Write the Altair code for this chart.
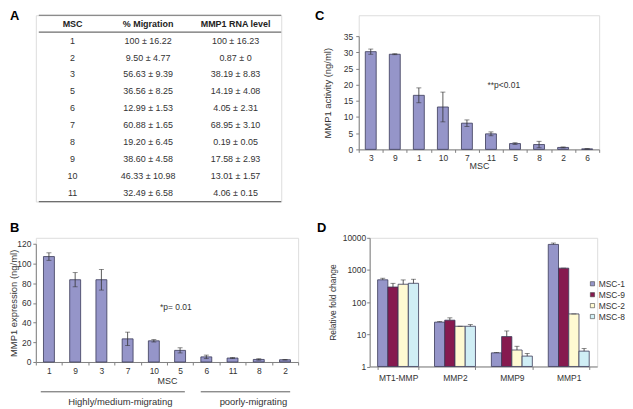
import altair as alt
import pandas as pd

FONT = "Liberation Sans"
BAR_FILL = "#9595c9"
BAR_EDGE = "#3a3a58"
AXIS_GRAY = "#808080"
TXT = "#333333"

# ---------------- data ----------------
# Panel A (table)
table_headers = ["MSC", "% Migration", "MMP1 RNA level"]
table_msc = ["1", "2", "3", "5", "6", "7", "8", "9", "10", "11"]
table_migration = ["100 ± 16.22", "9.50 ± 4.77", "56.63 ± 9.39", "36.56 ± 8.25",
                   "12.99 ± 1.53", "60.88 ± 1.65", "19.20 ± 6.45", "38.60 ± 4.58",
                   "46.33 ± 10.98", "32.49 ± 6.58"]
table_rna = ["100 ± 16.23", "0.87 ± 0", "38.19 ± 8.83", "14.19 ± 4.08",
             "4.05 ± 2.31", "68.95 ± 3.10", "0.19 ± 0.05", "17.58 ± 2.93",
             "13.01 ± 1.57", "4.06 ± 0.15"]

# Panel B
b_msc = ["1", "9", "3", "7", "10", "5", "6", "11", "8", "2"]
b_expr = [107, 83.5, 83.5, 23.5, 21.5, 11.8, 5.2, 4.0, 2.6, 2.3]
b_err = [3.8, 7.2, 10.5, 6.8, 1.2, 2.6, 1.8, 0.5, 0.7, 0.3]

# Panel C
c_msc = ["3", "9", "1", "10", "7", "11", "5", "8", "2", "6"]
c_act = [30.2, 29.4, 16.7, 13.1, 8.1, 4.8, 1.8, 1.5, 0.6, 0.15]
c_err = [0.8, 0.15, 2.3, 4.6, 1.0, 0.6, 0.25, 1.0, 0.15, 0.05]

# Panel D
d_genes = ["MT1-MMP", "MMP2", "MMP9", "MMP1"]
d_series = ["MSC-1", "MSC-9", "MSC-2", "MSC-8"]
d_colors = ["#9595c9", "#861a4f", "#fffad2", "#d0eef5"]
msc1_fold = [494, 23.9, 2.65, 6230]
msc9_fold = [295, 27.5, 8.5, 1140]
msc2_fold = [360, 17.8, 3.25, 43]
msc8_fold = [385, 17.8, 2.1, 3.0]
msc1_err = [60, 1.0, 0.08, 650]
msc9_err = [90, 5.0, 4.2, 0]
msc2_err = [130, 0, 1.0, 0]
msc8_err = [130, 2.2, 0.45, 0.6]


def letter(ch, dx, dy):
    return alt.Chart(pd.DataFrame({"t": [ch]})).mark_text(
        align="left", baseline="top", fontSize=13, fontWeight="bold",
        font=FONT, color="#000000"
    ).encode(x=alt.value(dx), y=alt.value(dy), text="t:N")


def note(txt, dx, dy, size=8.5):
    return alt.Chart(pd.DataFrame({"t": [txt]})).mark_text(
        align="center", baseline="middle", fontSize=size, font=FONT, color=TXT
    ).encode(x=alt.value(dx), y=alt.value(dy), text="t:N")


# ---------------- Panel A ----------------
body_rows = []
for i, (m, mig, rna) in enumerate(zip(table_msc, table_migration, table_rna), start=1):
    body_rows += [{"c": 0, "r": i, "t": m}, {"c": 1, "r": i, "t": mig}, {"c": 2, "r": i, "t": rna}]
df_body = pd.DataFrame(body_rows)
df_head = pd.DataFrame({"c": [0, 1, 2], "r": [0, 0, 0], "t": table_headers})
df_lines = pd.DataFrame({"r": [-0.5, 0.5, 10.5]})

A_W, A_H = 247, 187.5
xA = alt.X("c:Q", scale=alt.Scale(domain=[0, 1, 2], range=[37, 113, 201], nice=False), axis=None)
yA = alt.Y("r:Q", scale=alt.Scale(domain=[0, 10], range=[8.5, 179], nice=False, zero=False), axis=None)

a_lines = alt.Chart(df_lines).mark_rule(color="#6e6e6e", strokeWidth=1.2).encode(
    y=yA, x=alt.value(3), x2=alt.value(A_W))
a_head = alt.Chart(df_head).mark_text(fontSize=9, fontWeight="bold", font=FONT, color="#222222",
                                      baseline="middle").encode(x=xA, y=yA, text="t:N")
a_body = alt.Chart(df_body).mark_text(fontSize=9, font=FONT, color=TXT,
                                      baseline="middle").encode(x=xA, y=yA, text="t:N")
panelA = alt.layer(a_lines, a_head, a_body, letter("A", -26, -5)).properties(width=A_W, height=A_H)


def bar_panel(msc, vals, errs, height, top, ymax, ystep, ytitle, title_x, ylab_pad, xlab_pad, xtitle_pad):
    df = pd.DataFrame({"msc": msc, "v": vals, "e": errs})
    base = alt.Chart(df).transform_calculate(lo="datum.v - datum.e", hi="datum.v + datum.e")
    xaxis = alt.Axis(title="MSC", labelAngle=0, tickBand="extent", tickSize=3, labelPadding=xlab_pad,
                     titlePadding=xtitle_pad, domainColor=AXIS_GRAY, tickColor=AXIS_GRAY,
                     labelColor=TXT, labelFontSize=8.5, titleFontSize=9, titleFontWeight="normal",
                     titleColor=TXT, labelFont=FONT, titleFont=FONT)
    yaxis = alt.Axis(title=ytitle, values=list(range(0, ymax + 1, ystep)), grid=False, tickSize=3,
                     labelPadding=ylab_pad, domainColor=AXIS_GRAY, tickColor=AXIS_GRAY,
                     labelColor=TXT, labelFontSize=8.5, titleFontSize=9.5, titleFontWeight="normal",
                     titleColor=TXT, titleX=title_x, labelFont=FONT, titleFont=FONT)
    x = alt.X("msc:N", sort=msc, scale=alt.Scale(paddingInner=0, paddingOuter=0), axis=xaxis)
    ysc = alt.Scale(domain=[0, ymax], range=[height, top], nice=False)
    bars = base.mark_bar(fill=BAR_FILL, stroke=BAR_EDGE, strokeWidth=0.8, size=11).encode(
        x=x, y=alt.Y("v:Q", scale=ysc, axis=yaxis))
    err = base.mark_rule(color="#333333", strokeWidth=0.8).encode(
        x=x, y=alt.Y("lo:Q", scale=ysc, axis=yaxis), y2="hi:Q")
    cap_hi = base.mark_tick(color="#333333", thickness=0.8, size=5).encode(
        x=x, y=alt.Y("hi:Q", scale=ysc, axis=yaxis))
    cap_lo = base.mark_tick(color="#333333", thickness=0.8, size=5).encode(
        x=x, y=alt.Y("lo:Q", scale=ysc, axis=yaxis))
    return [bars, err, cap_hi, cap_lo]


# ---------------- Panel C ----------------
C_W, C_H = 242, 135
panelC = alt.layer(
    *bar_panel(c_msc, c_act, c_err, C_H, 21, 35, 5, "MMP1 activity (ng/ml)", -26, 3, 1, 0),
    note("**p<0.01", 146, 70),
    letter("C", -44, -5),
).properties(width=C_W, height=C_H)

# ---------------- Panel B ----------------
B_W, B_H = 264, 125
group_line_style = dict(color="#333333", strokeWidth=0.8)
b_line1 = alt.Chart(pd.DataFrame({"g": ["Highly/medium-migrating"]})).mark_rule(**group_line_style).encode(
    x=alt.value(5), x2=alt.value(150), y=alt.value(155))
b_line2 = alt.Chart(pd.DataFrame({"g": ["poorly-migrating"]})).mark_rule(**group_line_style).encode(
    x=alt.value(166), x2=alt.value(256), y=alt.value(155))
panelB = alt.layer(
    *bar_panel(b_msc, b_expr, b_err, B_H, 6, 120, 20, "MMP1 expression (ng/ml)", -17, 2, 2, 1),
    note("*p= 0.01", 141, 70),
    b_line1, b_line2,
    note("Highly/medium-migrating", 85, 165, 9.5),
    note("poorly-migrating", 219, 165, 9.5),
    letter("B", -26, -16),
).properties(width=B_W, height=B_H)

# ---------------- Panel D ----------------
D_W, D_H = 229, 129.5
fold_by_series = [msc1_fold, msc9_fold, msc2_fold, msc8_fold]
err_by_series = [msc1_err, msc9_err, msc2_err, msc8_err]
rowsD = []
for s, fv, ev in zip(d_series, fold_by_series, err_by_series):
    for g, v, e in zip(d_genes, fv, ev):
        rowsD.append({"gene": g, "series": s, "v": v, "e": e})
dfD = pd.DataFrame(rowsD)
baseD = alt.Chart(dfD).transform_calculate(hi="datum.v + datum.e")
xD = alt.X("gene:N", sort=d_genes, scale=alt.Scale(paddingInner=0.28, paddingOuter=0.14),
           axis=alt.Axis(title=None, labelAngle=0, tickBand="extent", tickSize=3, labelPadding=4,
                         domainColor=AXIS_GRAY, tickColor=AXIS_GRAY, labelColor=TXT,
                         labelFontSize=8.5, labelFont=FONT))
xoD = alt.XOffset("series:N", sort=d_series, scale=alt.Scale(paddingInner=0, paddingOuter=0))
ysD = alt.Scale(type="log", domain=[1, 10000], nice=False)
yaxD = alt.Axis(title="Relative fold change", values=[1, 10, 100, 1000, 10000], format="d", grid=False,
                tickSize=3, labelPadding=1, domainColor=AXIS_GRAY, tickColor=AXIS_GRAY,
                labelColor=TXT, labelFontSize=8.5, titleFontSize=8.5, titleFontWeight="normal",
                titleColor=TXT, titleX=-32, labelFont=FONT, titleFont=FONT)
barsD = baseD.mark_bar(stroke=BAR_EDGE, strokeWidth=0.8).encode(
    x=xD, xOffset=xoD,
    y=alt.Y("v:Q", scale=ysD, axis=yaxD), y2=alt.datum(1),
    color=alt.Color("series:N", sort=d_series, scale=alt.Scale(domain=d_series, range=d_colors),
                    legend=alt.Legend(title=None, orient="none", legendX=556, legendY=266,
                                      symbolType="square", symbolSize=18, symbolStrokeColor="#444444",
                                      symbolStrokeWidth=0.6, labelFontSize=8.5, labelColor=TXT,
                                      labelFont=FONT, labelOffset=2, rowPadding=2)))
errD = baseD.mark_rule(color="#333333", strokeWidth=0.8).encode(
    x=xD, xOffset=xoD, y=alt.Y("v:Q", scale=ysD, axis=yaxD), y2="hi:Q")
capD = baseD.mark_tick(color="#333333", thickness=0.8, size=5).encode(
    x=xD, xOffset=xoD, y=alt.Y("hi:Q", scale=ysD, axis=yaxD))
panelD = alt.layer(barsD, errD, capD, letter("D", -53, -16)).properties(width=D_W, height=D_H)

row1 = alt.hconcat(panelA, panelC, spacing=31)
row2 = alt.hconcat(panelB, panelD, spacing=17)
chart = alt.vconcat(row1, row2, spacing=18).properties(padding=0, background="white").configure_view(
    stroke=None).configure(font=FONT)

chart.save("out.html", embed_options={"renderer": "svg", "actions": False})
